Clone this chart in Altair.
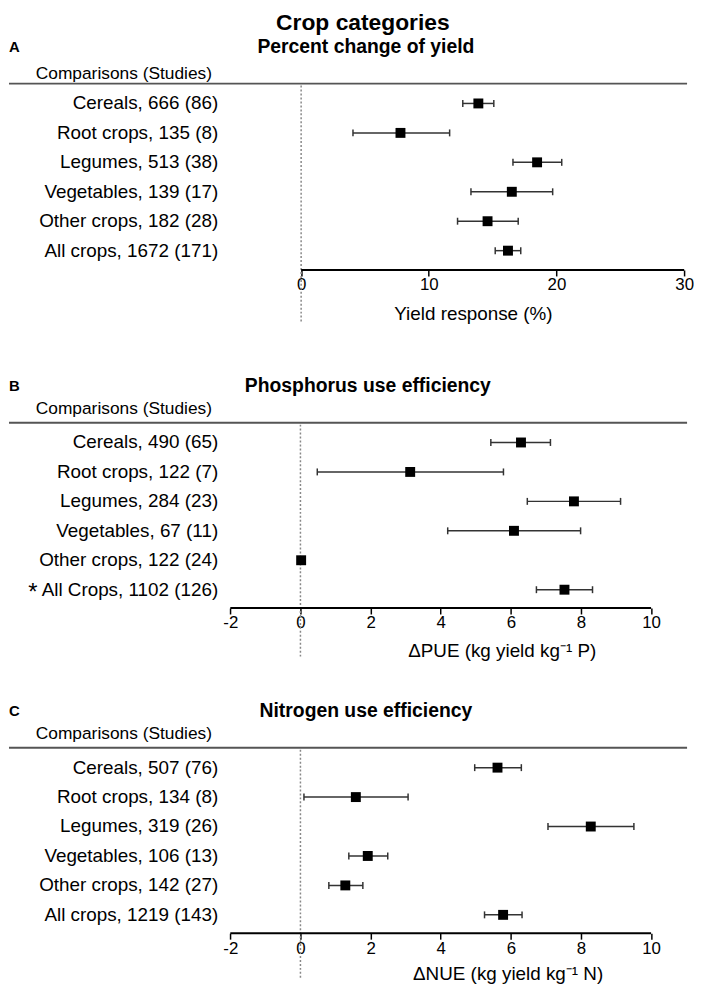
import altair as alt
import pandas as pd

FONT = "Liberation Sans"

# ---------------- data ----------------
categories_A = ["Cereals, 666 (86)", "Root crops, 135 (8)", "Legumes, 513 (38)",
                "Vegetables, 139 (17)", "Other crops, 182 (28)", "All crops, 1672 (171)"]
mean_A = [13.88, 7.78, 18.48, 16.5, 14.6, 16.2]
lo_A = [12.66, 4.06, 16.59, 13.3, 12.25, 15.2]
hi_A = [15.09, 11.63, 20.41, 19.7, 17.0, 17.2]

categories_B = ["Cereals, 490 (65)", "Root crops, 122 (7)", "Legumes, 284 (23)",
                "Vegetables, 67 (11)", "Other crops, 122 (24)", "All Crops, 1102 (126)"]
flags_B = ["", "", "", "", "", "*"]
mean_B = [6.29, 3.13, 7.80, 6.09, 0.02, 7.53]
lo_B = [5.43, 0.48, 6.47, 4.20, 0.02, 6.73]
hi_B = [7.13, 5.79, 9.13, 7.99, 0.02, 8.33]

categories_C = ["Cereals, 507 (76)", "Root crops, 134 (8)", "Legumes, 319 (26)",
                "Vegetables, 106 (13)", "Other crops, 142 (27)", "All crops, 1219 (143)"]
mean_C = [5.62, 1.58, 8.28, 1.92, 1.28, 5.78]
lo_C = [4.97, 0.10, 7.06, 1.38, 0.81, 5.25]
hi_C = [6.30, 3.07, 9.51, 2.49, 1.78, 6.32]

ticks_A = [0, 10, 20, 30]
ticks_BC = [-2, 0, 2, 4, 6, 8, 10]

# ---------------- layout ----------------
W = 684          # plot width (all panels)
STEP = 29.7      # row spacing


def one():
    return alt.Chart(alt.Data(values=[{"k": 1}]))


def panel(letter, title, cats, mean, lo, hi, ticks, axis_title, zero_px, unit,
          height, axis_px, title_x, head_x, flags=None, main_title=None,
          head_y=35, comp_y=60, dot_len=50, title_y=43):
    line_y = 72
    row0 = 92
    df = pd.DataFrame({"label": cats, "mean": mean, "lo": lo, "hi": hi,
                       "flag": flags if flags else [""] * len(cats)})
    base = alt.Chart(df)
    xdom = [-zero_px / unit, (W - zero_px) / unit]
    yenc = alt.Y("label:N", sort=cats, axis=None,
                 scale=alt.Scale(type="point", domain=cats,
                                 range=[row0, row0 + STEP * (len(cats) - 1)], padding=0))

    axis = alt.Axis(values=ticks, domain=False, ticks=True, tickSize=6, tickWidth=1.5,
                    tickColor="black", labelFontSize=17, labelColor="black", labelFont=FONT,
                    labelPadding=1, labelExpr="'' + datum.value", grid=False,
                    offset=axis_px - height, title=axis_title, titleFontSize=19,
                    titleFontWeight="normal", titleFont=FONT, titleColor="black",
                    titleX=title_x, titleY=title_y, titleBaseline="middle", titleAlign="center",
                    labelFlush=False, labelOverlap=False)
    xscale = alt.Scale(domain=xdom, nice=False, zero=False)

    layers = []
    layers.append(one().mark_rule(color="#555", strokeWidth=2).encode(
        x=alt.value(0), x2=alt.value(W), y=alt.value(line_y)))
    layers.append(one().mark_rule(color="#888", strokeDash=[2, 2], strokeWidth=1.5).encode(
        x=alt.datum(0), y=alt.value(line_y + 2), y2=alt.value(axis_px + dot_len)))
    layers.append(one().mark_rule(color="black", strokeWidth=2).encode(
        x=alt.datum(ticks[0]), x2=alt.datum(ticks[-1]), y=alt.value(axis_px)))
    layers.append(base.mark_rule(color="#333", strokeWidth=1.5).encode(
        x="lo:Q", x2="hi:Q", y=yenc))
    layers.append(base.mark_tick(color="#333", thickness=1.5, size=7, opacity=1).encode(
        x="lo:Q", y=yenc))
    layers.append(base.mark_tick(color="#333", thickness=1.5, size=7, opacity=1).encode(
        x="hi:Q", y=yenc))
    layers.append(base.mark_square(size=100, color="black", opacity=1).encode(
        x=alt.X("mean:Q", scale=xscale, axis=axis), y=yenc))
    layers.append(base.mark_text(align="right", baseline="middle", fontSize=19, font=FONT,
                                 color="black").encode(
        x=alt.value(211), y=yenc, text="label:N"))
    if flags:
        layers.append(base.mark_text(align="center", baseline="middle", fontSize=24, font=FONT,
                                     color="black", dy=3).encode(
            x=alt.value(24), y=yenc, text="flag:N"))
    layers.append(one().mark_text(text=letter, align="left", baseline="middle", fontSize=15,
                                  fontWeight="bold", font=FONT, color="black").encode(
        x=alt.value(0), y=alt.value(head_y)))
    layers.append(one().mark_text(text=title, align="center", baseline="middle", fontSize=19.5,
                                  fontWeight="bold", font=FONT, color="black").encode(
        x=alt.value(head_x), y=alt.value(head_y)))
    layers.append(one().mark_text(text="Comparisons (Studies)", align="left", baseline="middle",
                                  fontSize=17.5, font=FONT, color="black").encode(
        x=alt.value(27), y=alt.value(comp_y)))
    if main_title:
        layers.append(one().mark_text(text=main_title, align="center", baseline="middle",
                                      fontSize=23, fontWeight="bold", font=FONT,
                                      color="black").encode(
            x=alt.value(357), y=alt.value(11)))
    return alt.layer(*layers).properties(width=W, height=height)


pA = panel("A", "Percent change of yield", categories_A, mean_A, lo_A, hi_A, ticks_A,
           "Yield response (%)", 294.7, 12.88, 342, 260, 468, 360,
           main_title="Crop categories", head_y=35, comp_y=62, dot_len=52, title_y=44)
pB = panel("B", "Phosphorus use efficiency", categories_B, mean_B, lo_B, hi_B, ticks_BC,
           "ΔPUE (kg yield kg⁻¹ P)", 294.0, 35.37, 328, 259, 497, 362,
           flags=flags_B, head_y=35, comp_y=58, dot_len=49, title_y=43)
pC = panel("C", "Nitrogen use efficiency", categories_C, mean_C, lo_C, hi_C, ticks_BC,
           "ΔNUE (kg yield kg⁻¹ N)", 294.0, 35.37, 304, 259, 503, 360,
           head_y=35, comp_y=58, dot_len=45, title_y=41)

chart = alt.vconcat(pA, pB, pC, spacing=0).properties(padding=0).configure_view(stroke=None)

chart.save("out.html", embed_options={"renderer": "svg", "actions": False})
